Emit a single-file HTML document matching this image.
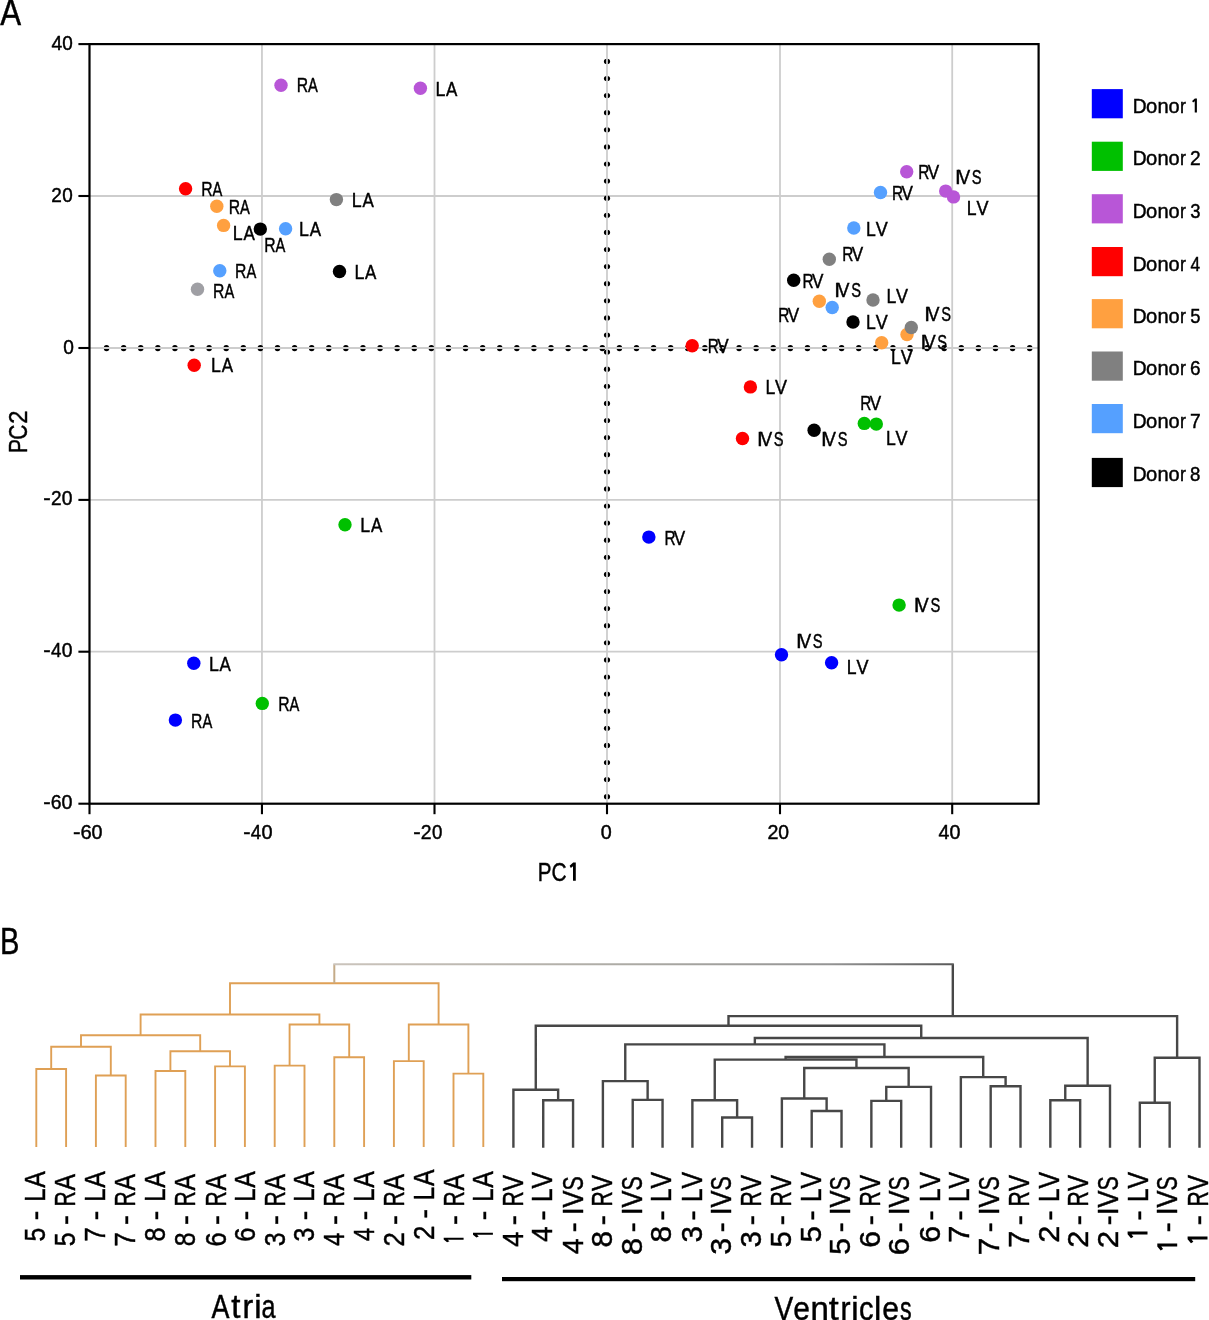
<!DOCTYPE html>
<html><head><meta charset="utf-8"><title>Figure</title>
<style>
html,body{margin:0;padding:0;background:#fff;}
body{width:1209px;height:1320px;overflow:hidden;}
svg{display:block;will-change:transform;font-family:"Liberation Sans",sans-serif;font-kerning:none;}
</style></head><body>
<svg width="1209" height="1320" viewBox="0 0 1209 1320">
<defs><linearGradient id="rootg" gradientUnits="userSpaceOnUse" x1="334" y1="0" x2="953" y2="0"><stop offset="0" stop-color="#cbc4bc"/><stop offset="0.45" stop-color="#aeaca6"/><stop offset="0.8" stop-color="#949494"/><stop offset="1" stop-color="#5a5a5a"/></linearGradient></defs>
<rect width="1209" height="1320" fill="#fff"/>
<g fill="#000" stroke="#000" stroke-width="0.45">
<text x="0.16" y="24.70" font-size="37.3" textLength="20.87" lengthAdjust="spacingAndGlyphs">A</text>
</g>
<line x1="261.95" y1="44.1" x2="261.95" y2="803.7" stroke="#cdcdcd" stroke-width="1.8"/>
<line x1="434.50" y1="44.1" x2="434.50" y2="803.7" stroke="#cdcdcd" stroke-width="1.8"/>
<line x1="780.00" y1="44.1" x2="780.00" y2="803.7" stroke="#cdcdcd" stroke-width="1.8"/>
<line x1="952.20" y1="44.1" x2="952.20" y2="803.7" stroke="#cdcdcd" stroke-width="1.8"/>
<line x1="89.5" y1="196.00" x2="1038.6" y2="196.00" stroke="#cdcdcd" stroke-width="1.8"/>
<line x1="89.5" y1="499.90" x2="1038.6" y2="499.90" stroke="#cdcdcd" stroke-width="1.8"/>
<line x1="89.5" y1="651.70" x2="1038.6" y2="651.70" stroke="#cdcdcd" stroke-width="1.8"/>
<g fill="#000"><ellipse cx="106.55" cy="348.1" rx="2.8" ry="3.2"/><ellipse cx="123.64" cy="348.1" rx="2.8" ry="3.2"/><ellipse cx="140.74" cy="348.1" rx="2.8" ry="3.2"/><ellipse cx="157.83" cy="348.1" rx="2.8" ry="3.2"/><ellipse cx="174.93" cy="348.1" rx="2.8" ry="3.2"/><ellipse cx="192.02" cy="348.1" rx="2.8" ry="3.2"/><ellipse cx="209.12" cy="348.1" rx="2.8" ry="3.2"/><ellipse cx="226.21" cy="348.1" rx="2.8" ry="3.2"/><ellipse cx="243.31" cy="348.1" rx="2.8" ry="3.2"/><ellipse cx="260.40" cy="348.1" rx="2.8" ry="3.2"/><ellipse cx="277.50" cy="348.1" rx="2.8" ry="3.2"/><ellipse cx="294.59" cy="348.1" rx="2.8" ry="3.2"/><ellipse cx="311.69" cy="348.1" rx="2.8" ry="3.2"/><ellipse cx="328.78" cy="348.1" rx="2.8" ry="3.2"/><ellipse cx="345.88" cy="348.1" rx="2.8" ry="3.2"/><ellipse cx="362.97" cy="348.1" rx="2.8" ry="3.2"/><ellipse cx="380.07" cy="348.1" rx="2.8" ry="3.2"/><ellipse cx="397.16" cy="348.1" rx="2.8" ry="3.2"/><ellipse cx="414.26" cy="348.1" rx="2.8" ry="3.2"/><ellipse cx="431.35" cy="348.1" rx="2.8" ry="3.2"/><ellipse cx="448.45" cy="348.1" rx="2.8" ry="3.2"/><ellipse cx="465.54" cy="348.1" rx="2.8" ry="3.2"/><ellipse cx="482.64" cy="348.1" rx="2.8" ry="3.2"/><ellipse cx="499.73" cy="348.1" rx="2.8" ry="3.2"/><ellipse cx="516.83" cy="348.1" rx="2.8" ry="3.2"/><ellipse cx="533.92" cy="348.1" rx="2.8" ry="3.2"/><ellipse cx="551.02" cy="348.1" rx="2.8" ry="3.2"/><ellipse cx="568.11" cy="348.1" rx="2.8" ry="3.2"/><ellipse cx="585.21" cy="348.1" rx="2.8" ry="3.2"/><ellipse cx="602.30" cy="348.1" rx="2.8" ry="3.2"/><ellipse cx="619.40" cy="348.1" rx="2.8" ry="3.2"/><ellipse cx="636.49" cy="348.1" rx="2.8" ry="3.2"/><ellipse cx="653.59" cy="348.1" rx="2.8" ry="3.2"/><ellipse cx="670.68" cy="348.1" rx="2.8" ry="3.2"/><ellipse cx="687.78" cy="348.1" rx="2.8" ry="3.2"/><ellipse cx="704.87" cy="348.1" rx="2.8" ry="3.2"/><ellipse cx="721.97" cy="348.1" rx="2.8" ry="3.2"/><ellipse cx="739.06" cy="348.1" rx="2.8" ry="3.2"/><ellipse cx="756.16" cy="348.1" rx="2.8" ry="3.2"/><ellipse cx="773.25" cy="348.1" rx="2.8" ry="3.2"/><ellipse cx="790.35" cy="348.1" rx="2.8" ry="3.2"/><ellipse cx="807.44" cy="348.1" rx="2.8" ry="3.2"/><ellipse cx="824.54" cy="348.1" rx="2.8" ry="3.2"/><ellipse cx="841.63" cy="348.1" rx="2.8" ry="3.2"/><ellipse cx="858.73" cy="348.1" rx="2.8" ry="3.2"/><ellipse cx="875.82" cy="348.1" rx="2.8" ry="3.2"/><ellipse cx="892.92" cy="348.1" rx="2.8" ry="3.2"/><ellipse cx="910.01" cy="348.1" rx="2.8" ry="3.2"/><ellipse cx="927.11" cy="348.1" rx="2.8" ry="3.2"/><ellipse cx="944.20" cy="348.1" rx="2.8" ry="3.2"/><ellipse cx="961.30" cy="348.1" rx="2.8" ry="3.2"/><ellipse cx="978.39" cy="348.1" rx="2.8" ry="3.2"/><ellipse cx="995.49" cy="348.1" rx="2.8" ry="3.2"/><ellipse cx="1012.58" cy="348.1" rx="2.8" ry="3.2"/><ellipse cx="1029.68" cy="348.1" rx="2.8" ry="3.2"/><ellipse cx="607.0" cy="61.40" rx="3.1" ry="2.6"/><ellipse cx="607.0" cy="78.50" rx="3.1" ry="2.6"/><ellipse cx="607.0" cy="95.60" rx="3.1" ry="2.6"/><ellipse cx="607.0" cy="112.70" rx="3.1" ry="2.6"/><ellipse cx="607.0" cy="129.80" rx="3.1" ry="2.6"/><ellipse cx="607.0" cy="146.90" rx="3.1" ry="2.6"/><ellipse cx="607.0" cy="164.00" rx="3.1" ry="2.6"/><ellipse cx="607.0" cy="181.10" rx="3.1" ry="2.6"/><ellipse cx="607.0" cy="198.20" rx="3.1" ry="2.6"/><ellipse cx="607.0" cy="215.30" rx="3.1" ry="2.6"/><ellipse cx="607.0" cy="232.40" rx="3.1" ry="2.6"/><ellipse cx="607.0" cy="249.50" rx="3.1" ry="2.6"/><ellipse cx="607.0" cy="266.60" rx="3.1" ry="2.6"/><ellipse cx="607.0" cy="283.70" rx="3.1" ry="2.6"/><ellipse cx="607.0" cy="300.80" rx="3.1" ry="2.6"/><ellipse cx="607.0" cy="317.90" rx="3.1" ry="2.6"/><ellipse cx="607.0" cy="335.00" rx="3.1" ry="2.6"/><ellipse cx="607.0" cy="352.10" rx="3.1" ry="2.6"/><ellipse cx="607.0" cy="369.20" rx="3.1" ry="2.6"/><ellipse cx="607.0" cy="386.30" rx="3.1" ry="2.6"/><ellipse cx="607.0" cy="403.40" rx="3.1" ry="2.6"/><ellipse cx="607.0" cy="420.50" rx="3.1" ry="2.6"/><ellipse cx="607.0" cy="437.60" rx="3.1" ry="2.6"/><ellipse cx="607.0" cy="454.70" rx="3.1" ry="2.6"/><ellipse cx="607.0" cy="471.80" rx="3.1" ry="2.6"/><ellipse cx="607.0" cy="488.90" rx="3.1" ry="2.6"/><ellipse cx="607.0" cy="506.00" rx="3.1" ry="2.6"/><ellipse cx="607.0" cy="523.10" rx="3.1" ry="2.6"/><ellipse cx="607.0" cy="540.20" rx="3.1" ry="2.6"/><ellipse cx="607.0" cy="557.30" rx="3.1" ry="2.6"/><ellipse cx="607.0" cy="574.40" rx="3.1" ry="2.6"/><ellipse cx="607.0" cy="591.50" rx="3.1" ry="2.6"/><ellipse cx="607.0" cy="608.60" rx="3.1" ry="2.6"/><ellipse cx="607.0" cy="625.70" rx="3.1" ry="2.6"/><ellipse cx="607.0" cy="642.80" rx="3.1" ry="2.6"/><ellipse cx="607.0" cy="659.90" rx="3.1" ry="2.6"/><ellipse cx="607.0" cy="677.00" rx="3.1" ry="2.6"/><ellipse cx="607.0" cy="694.10" rx="3.1" ry="2.6"/><ellipse cx="607.0" cy="711.20" rx="3.1" ry="2.6"/><ellipse cx="607.0" cy="728.30" rx="3.1" ry="2.6"/><ellipse cx="607.0" cy="745.40" rx="3.1" ry="2.6"/><ellipse cx="607.0" cy="762.50" rx="3.1" ry="2.6"/><ellipse cx="607.0" cy="779.60" rx="3.1" ry="2.6"/><ellipse cx="607.0" cy="796.70" rx="3.1" ry="2.6"/></g>
<line x1="89.5" y1="348.0" x2="1038.6" y2="348.0" stroke="#cdcdcd" stroke-width="1.8"/>
<line x1="607.0" y1="44.1" x2="607.0" y2="803.7" stroke="#cdcdcd" stroke-width="1.8"/>
<rect x="89.5" y="44.1" width="949.10" height="759.60" fill="none" stroke="#000" stroke-width="2.2"/>
<line x1="78.4" y1="44.10" x2="89.5" y2="44.10" stroke="#000" stroke-width="2.1"/>
<line x1="78.4" y1="196.00" x2="89.5" y2="196.00" stroke="#000" stroke-width="2.1"/>
<line x1="78.4" y1="348.00" x2="89.5" y2="348.00" stroke="#000" stroke-width="2.1"/>
<line x1="78.4" y1="499.90" x2="89.5" y2="499.90" stroke="#000" stroke-width="2.1"/>
<line x1="78.4" y1="651.70" x2="89.5" y2="651.70" stroke="#000" stroke-width="2.1"/>
<line x1="78.4" y1="803.70" x2="89.5" y2="803.70" stroke="#000" stroke-width="2.1"/>
<line x1="89.50" y1="803.7" x2="89.50" y2="814.2" stroke="#000" stroke-width="2.1"/>
<line x1="261.95" y1="803.7" x2="261.95" y2="814.2" stroke="#000" stroke-width="2.1"/>
<line x1="434.50" y1="803.7" x2="434.50" y2="814.2" stroke="#000" stroke-width="2.1"/>
<line x1="607.00" y1="803.7" x2="607.00" y2="814.2" stroke="#000" stroke-width="2.1"/>
<line x1="780.00" y1="803.7" x2="780.00" y2="814.2" stroke="#000" stroke-width="2.1"/>
<line x1="952.20" y1="803.7" x2="952.20" y2="814.2" stroke="#000" stroke-width="2.1"/>
<g fill="#000" stroke="#000" stroke-width="0.45">
<text x="51.38" y="50.00" font-size="20.2" textLength="10.76" lengthAdjust="spacingAndGlyphs">4</text>
<text x="62.29" y="50.00" font-size="20.2" textLength="10.53" lengthAdjust="spacingAndGlyphs">0</text>
<text x="51.37" y="201.90" font-size="20.2" textLength="10.56" lengthAdjust="spacingAndGlyphs">2</text>
<text x="62.29" y="201.90" font-size="20.2" textLength="10.53" lengthAdjust="spacingAndGlyphs">0</text>
<text x="63.18" y="354.00" font-size="20.2" textLength="10.65" lengthAdjust="spacingAndGlyphs">0</text>
<text x="43.23" y="505.00" font-size="20.2" textLength="7.43" lengthAdjust="spacingAndGlyphs">-</text>
<text x="50.97" y="505.00" font-size="20.2" textLength="10.56" lengthAdjust="spacingAndGlyphs">2</text>
<text x="61.67" y="505.00" font-size="20.2" textLength="10.76" lengthAdjust="spacingAndGlyphs">0</text>
<text x="43.23" y="657.00" font-size="20.2" textLength="7.43" lengthAdjust="spacingAndGlyphs">-</text>
<text x="50.89" y="657.00" font-size="20.2" textLength="10.43" lengthAdjust="spacingAndGlyphs">4</text>
<text x="61.67" y="657.00" font-size="20.2" textLength="10.76" lengthAdjust="spacingAndGlyphs">0</text>
<text x="43.23" y="809.00" font-size="20.2" textLength="7.43" lengthAdjust="spacingAndGlyphs">-</text>
<text x="50.64" y="809.00" font-size="20.2" textLength="10.79" lengthAdjust="spacingAndGlyphs">6</text>
<text x="61.45" y="809.00" font-size="20.2" textLength="10.99" lengthAdjust="spacingAndGlyphs">0</text>
<text x="73.11" y="838.70" font-size="20.2" textLength="7.57" lengthAdjust="spacingAndGlyphs">-</text>
<text x="80.50" y="838.70" font-size="20.2" textLength="11.27" lengthAdjust="spacingAndGlyphs">6</text>
<text x="91.55" y="838.70" font-size="20.2" textLength="10.99" lengthAdjust="spacingAndGlyphs">0</text>
<text x="243.15" y="838.70" font-size="20.2" textLength="7.30" lengthAdjust="spacingAndGlyphs">-</text>
<text x="250.79" y="838.70" font-size="20.2" textLength="10.43" lengthAdjust="spacingAndGlyphs">4</text>
<text x="261.54" y="838.70" font-size="20.2" textLength="11.11" lengthAdjust="spacingAndGlyphs">0</text>
<text x="413.23" y="838.70" font-size="20.2" textLength="7.43" lengthAdjust="spacingAndGlyphs">-</text>
<text x="420.75" y="838.70" font-size="20.2" textLength="10.80" lengthAdjust="spacingAndGlyphs">2</text>
<text x="431.89" y="838.70" font-size="20.2" textLength="10.41" lengthAdjust="spacingAndGlyphs">0</text>
<text x="600.85" y="838.70" font-size="20.2" textLength="10.99" lengthAdjust="spacingAndGlyphs">0</text>
<text x="767.54" y="838.70" font-size="20.2" textLength="10.93" lengthAdjust="spacingAndGlyphs">2</text>
<text x="778.37" y="838.70" font-size="20.2" textLength="10.76" lengthAdjust="spacingAndGlyphs">0</text>
<text x="938.38" y="838.70" font-size="20.2" textLength="10.87" lengthAdjust="spacingAndGlyphs">4</text>
<text x="949.45" y="838.70" font-size="20.2" textLength="10.99" lengthAdjust="spacingAndGlyphs">0</text>
<text x="537.74" y="880.80" font-size="25.6" textLength="13.72" lengthAdjust="spacingAndGlyphs">P</text>
<text x="551.46" y="880.80" font-size="25.6" textLength="15.11" lengthAdjust="spacingAndGlyphs">C</text>
<path transform="translate(569.60,880.80)" d="M6.20,-18.20L3.59,-18.20L0.00,-15.11L1.26,-12.92L3.41,-14.56L3.41,0.00L6.20,0.00Z" stroke="none"/>
<text transform="translate(26.80,453.09) rotate(-90)" font-size="25.6" textLength="13.97" lengthAdjust="spacingAndGlyphs">P</text>
<text transform="translate(26.80,439.74) rotate(-90)" font-size="25.6" textLength="15.11" lengthAdjust="spacingAndGlyphs">C</text>
<text transform="translate(26.80,423.67) rotate(-90)" font-size="25.6" textLength="13.25" lengthAdjust="spacingAndGlyphs">2</text>
</g>
<circle cx="175.4" cy="720.1" r="6.7" fill="#0000ff"/>
<circle cx="193.8" cy="663.3" r="6.7" fill="#0000ff"/>
<circle cx="648.85" cy="537.1" r="6.7" fill="#0000ff"/>
<circle cx="781.5" cy="654.8" r="6.7" fill="#0000ff"/>
<circle cx="831.6" cy="662.7" r="6.7" fill="#0000ff"/>
<circle cx="345.0" cy="524.7" r="6.7" fill="#00c000"/>
<circle cx="262.3" cy="703.4" r="6.7" fill="#00c000"/>
<circle cx="864.3" cy="423.4" r="6.7" fill="#00c000"/>
<circle cx="876.3" cy="424.1" r="6.7" fill="#00c000"/>
<circle cx="899.1" cy="605.1" r="6.7" fill="#00c000"/>
<circle cx="281.0" cy="85.3" r="6.7" fill="#b856d7"/>
<circle cx="420.4" cy="88.2" r="6.7" fill="#b856d7"/>
<circle cx="906.7" cy="171.7" r="6.7" fill="#b856d7"/>
<circle cx="945.7" cy="191.1" r="6.7" fill="#b856d7"/>
<circle cx="953.5" cy="196.9" r="6.7" fill="#b856d7"/>
<circle cx="185.6" cy="188.7" r="6.7" fill="#ff0000"/>
<circle cx="194.2" cy="365.2" r="6.7" fill="#ff0000"/>
<circle cx="692.2" cy="345.8" r="6.7" fill="#ff0000"/>
<circle cx="750.4" cy="386.9" r="6.7" fill="#ff0000"/>
<circle cx="742.5" cy="438.5" r="6.7" fill="#ff0000"/>
<circle cx="216.8" cy="206.2" r="6.7" fill="#ffa040"/>
<circle cx="223.6" cy="225.4" r="6.7" fill="#ffa040"/>
<circle cx="819.3" cy="301.2" r="6.7" fill="#ffa040"/>
<circle cx="907.0" cy="334.5" r="6.7" fill="#ffa040"/>
<circle cx="881.7" cy="342.8" r="6.7" fill="#ffa040"/>
<circle cx="336.4" cy="199.6" r="6.7" fill="#808080"/>
<circle cx="197.5" cy="289.3" r="6.7" fill="#9f9fa4"/>
<circle cx="829.3" cy="259.2" r="6.7" fill="#808080"/>
<circle cx="873.0" cy="300.0" r="6.7" fill="#808080"/>
<circle cx="911.3" cy="327.5" r="6.7" fill="#808080"/>
<circle cx="285.6" cy="228.7" r="6.7" fill="#55a0ff"/>
<circle cx="219.8" cy="270.8" r="6.7" fill="#55a0ff"/>
<circle cx="880.5" cy="192.5" r="6.7" fill="#55a0ff"/>
<circle cx="853.8" cy="228.0" r="6.7" fill="#55a0ff"/>
<circle cx="832.2" cy="307.5" r="6.7" fill="#55a0ff"/>
<circle cx="260.3" cy="229.1" r="6.7" fill="#000000"/>
<circle cx="339.5" cy="271.5" r="6.7" fill="#000000"/>
<circle cx="793.7" cy="280.3" r="6.7" fill="#000000"/>
<circle cx="853.0" cy="322.0" r="6.7" fill="#000000"/>
<circle cx="814.1" cy="430.3" r="6.7" fill="#000000"/>
<g fill="#000" stroke="#000" stroke-width="0.45">
<text x="190.93" y="727.80" font-size="20.8" textLength="11.37" lengthAdjust="spacingAndGlyphs">R</text>
<text x="202.40" y="727.80" font-size="20.8" textLength="9.81" lengthAdjust="spacingAndGlyphs">A</text>
<text x="208.96" y="671.10" font-size="20.8" textLength="9.90" lengthAdjust="spacingAndGlyphs">L</text>
<text x="219.59" y="671.10" font-size="20.8" textLength="11.32" lengthAdjust="spacingAndGlyphs">A</text>
<text x="664.46" y="544.50" font-size="20.8" textLength="11.13" lengthAdjust="spacingAndGlyphs">R</text>
<text x="673.85" y="544.50" font-size="20.8" textLength="11.40" lengthAdjust="spacingAndGlyphs">V</text>
<text x="796.06" y="648.30" font-size="20.8" textLength="5.78" lengthAdjust="spacingAndGlyphs">I</text>
<text x="799.15" y="648.30" font-size="20.8" textLength="11.91" lengthAdjust="spacingAndGlyphs">V</text>
<text x="812.86" y="648.30" font-size="20.8" textLength="9.79" lengthAdjust="spacingAndGlyphs">S</text>
<text x="846.78" y="673.70" font-size="20.8" textLength="9.78" lengthAdjust="spacingAndGlyphs">L</text>
<text x="856.45" y="673.70" font-size="20.8" textLength="12.01" lengthAdjust="spacingAndGlyphs">V</text>
<text x="360.26" y="532.40" font-size="20.8" textLength="9.90" lengthAdjust="spacingAndGlyphs">L</text>
<text x="370.89" y="532.40" font-size="20.8" textLength="11.32" lengthAdjust="spacingAndGlyphs">A</text>
<text x="278.13" y="711.30" font-size="20.8" textLength="11.37" lengthAdjust="spacingAndGlyphs">R</text>
<text x="289.60" y="711.30" font-size="20.8" textLength="9.81" lengthAdjust="spacingAndGlyphs">A</text>
<text x="860.26" y="409.80" font-size="20.8" textLength="11.13" lengthAdjust="spacingAndGlyphs">R</text>
<text x="869.65" y="409.80" font-size="20.8" textLength="11.40" lengthAdjust="spacingAndGlyphs">V</text>
<text x="885.88" y="444.80" font-size="20.8" textLength="9.78" lengthAdjust="spacingAndGlyphs">L</text>
<text x="895.55" y="444.80" font-size="20.8" textLength="12.01" lengthAdjust="spacingAndGlyphs">V</text>
<text x="913.66" y="611.80" font-size="20.8" textLength="5.78" lengthAdjust="spacingAndGlyphs">I</text>
<text x="916.75" y="611.80" font-size="20.8" textLength="11.91" lengthAdjust="spacingAndGlyphs">V</text>
<text x="930.46" y="611.80" font-size="20.8" textLength="9.79" lengthAdjust="spacingAndGlyphs">S</text>
<text x="296.63" y="92.40" font-size="20.8" textLength="11.37" lengthAdjust="spacingAndGlyphs">R</text>
<text x="308.10" y="92.40" font-size="20.8" textLength="9.81" lengthAdjust="spacingAndGlyphs">A</text>
<text x="435.46" y="95.60" font-size="20.8" textLength="9.90" lengthAdjust="spacingAndGlyphs">L</text>
<text x="446.09" y="95.60" font-size="20.8" textLength="11.32" lengthAdjust="spacingAndGlyphs">A</text>
<text x="918.36" y="179.20" font-size="20.8" textLength="11.13" lengthAdjust="spacingAndGlyphs">R</text>
<text x="927.75" y="179.20" font-size="20.8" textLength="11.40" lengthAdjust="spacingAndGlyphs">V</text>
<text x="955.06" y="183.60" font-size="20.8" textLength="5.78" lengthAdjust="spacingAndGlyphs">I</text>
<text x="958.15" y="183.60" font-size="20.8" textLength="11.91" lengthAdjust="spacingAndGlyphs">V</text>
<text x="971.86" y="183.60" font-size="20.8" textLength="9.79" lengthAdjust="spacingAndGlyphs">S</text>
<text x="966.78" y="215.40" font-size="20.8" textLength="9.78" lengthAdjust="spacingAndGlyphs">L</text>
<text x="976.45" y="215.40" font-size="20.8" textLength="12.01" lengthAdjust="spacingAndGlyphs">V</text>
<text x="201.13" y="196.00" font-size="20.8" textLength="11.37" lengthAdjust="spacingAndGlyphs">R</text>
<text x="212.60" y="196.00" font-size="20.8" textLength="9.81" lengthAdjust="spacingAndGlyphs">A</text>
<text x="211.06" y="371.80" font-size="20.8" textLength="9.90" lengthAdjust="spacingAndGlyphs">L</text>
<text x="221.69" y="371.80" font-size="20.8" textLength="11.32" lengthAdjust="spacingAndGlyphs">A</text>
<text x="707.76" y="352.70" font-size="20.8" textLength="11.13" lengthAdjust="spacingAndGlyphs">R</text>
<text x="717.15" y="352.70" font-size="20.8" textLength="11.40" lengthAdjust="spacingAndGlyphs">V</text>
<text x="765.38" y="393.60" font-size="20.8" textLength="9.78" lengthAdjust="spacingAndGlyphs">L</text>
<text x="775.05" y="393.60" font-size="20.8" textLength="12.01" lengthAdjust="spacingAndGlyphs">V</text>
<text x="757.06" y="445.70" font-size="20.8" textLength="5.78" lengthAdjust="spacingAndGlyphs">I</text>
<text x="760.15" y="445.70" font-size="20.8" textLength="11.91" lengthAdjust="spacingAndGlyphs">V</text>
<text x="773.86" y="445.70" font-size="20.8" textLength="9.79" lengthAdjust="spacingAndGlyphs">S</text>
<text x="228.63" y="213.50" font-size="20.8" textLength="11.37" lengthAdjust="spacingAndGlyphs">R</text>
<text x="240.10" y="213.50" font-size="20.8" textLength="9.81" lengthAdjust="spacingAndGlyphs">A</text>
<text x="232.86" y="239.80" font-size="20.8" textLength="9.90" lengthAdjust="spacingAndGlyphs">L</text>
<text x="243.49" y="239.80" font-size="20.8" textLength="11.32" lengthAdjust="spacingAndGlyphs">A</text>
<text x="834.36" y="297.20" font-size="20.8" textLength="5.78" lengthAdjust="spacingAndGlyphs">I</text>
<text x="837.45" y="297.20" font-size="20.8" textLength="11.91" lengthAdjust="spacingAndGlyphs">V</text>
<text x="851.16" y="297.20" font-size="20.8" textLength="9.79" lengthAdjust="spacingAndGlyphs">S</text>
<text x="778.36" y="321.70" font-size="20.8" textLength="11.13" lengthAdjust="spacingAndGlyphs">R</text>
<text x="787.75" y="321.70" font-size="20.8" textLength="11.40" lengthAdjust="spacingAndGlyphs">V</text>
<text x="920.56" y="349.20" font-size="20.8" textLength="5.78" lengthAdjust="spacingAndGlyphs">I</text>
<text x="923.65" y="349.20" font-size="20.8" textLength="11.91" lengthAdjust="spacingAndGlyphs">V</text>
<text x="937.36" y="349.20" font-size="20.8" textLength="9.79" lengthAdjust="spacingAndGlyphs">S</text>
<text x="891.08" y="364.20" font-size="20.8" textLength="9.78" lengthAdjust="spacingAndGlyphs">L</text>
<text x="900.75" y="364.20" font-size="20.8" textLength="12.01" lengthAdjust="spacingAndGlyphs">V</text>
<text x="351.76" y="206.90" font-size="20.8" textLength="9.90" lengthAdjust="spacingAndGlyphs">L</text>
<text x="362.39" y="206.90" font-size="20.8" textLength="11.32" lengthAdjust="spacingAndGlyphs">A</text>
<text x="212.93" y="298.20" font-size="20.8" textLength="11.37" lengthAdjust="spacingAndGlyphs">R</text>
<text x="224.40" y="298.20" font-size="20.8" textLength="9.81" lengthAdjust="spacingAndGlyphs">A</text>
<text x="842.36" y="260.50" font-size="20.8" textLength="11.13" lengthAdjust="spacingAndGlyphs">R</text>
<text x="851.75" y="260.50" font-size="20.8" textLength="11.40" lengthAdjust="spacingAndGlyphs">V</text>
<text x="886.38" y="303.00" font-size="20.8" textLength="9.78" lengthAdjust="spacingAndGlyphs">L</text>
<text x="896.05" y="303.00" font-size="20.8" textLength="12.01" lengthAdjust="spacingAndGlyphs">V</text>
<text x="924.36" y="321.20" font-size="20.8" textLength="5.78" lengthAdjust="spacingAndGlyphs">I</text>
<text x="927.45" y="321.20" font-size="20.8" textLength="11.91" lengthAdjust="spacingAndGlyphs">V</text>
<text x="941.16" y="321.20" font-size="20.8" textLength="9.79" lengthAdjust="spacingAndGlyphs">S</text>
<text x="299.06" y="235.70" font-size="20.8" textLength="9.90" lengthAdjust="spacingAndGlyphs">L</text>
<text x="309.69" y="235.70" font-size="20.8" textLength="11.32" lengthAdjust="spacingAndGlyphs">A</text>
<text x="235.03" y="278.00" font-size="20.8" textLength="11.37" lengthAdjust="spacingAndGlyphs">R</text>
<text x="246.50" y="278.00" font-size="20.8" textLength="9.81" lengthAdjust="spacingAndGlyphs">A</text>
<text x="892.06" y="199.50" font-size="20.8" textLength="11.13" lengthAdjust="spacingAndGlyphs">R</text>
<text x="901.45" y="199.50" font-size="20.8" textLength="11.40" lengthAdjust="spacingAndGlyphs">V</text>
<text x="866.08" y="235.50" font-size="20.8" textLength="9.78" lengthAdjust="spacingAndGlyphs">L</text>
<text x="875.75" y="235.50" font-size="20.8" textLength="12.01" lengthAdjust="spacingAndGlyphs">V</text>
<text x="264.13" y="251.90" font-size="20.8" textLength="11.37" lengthAdjust="spacingAndGlyphs">R</text>
<text x="275.60" y="251.90" font-size="20.8" textLength="9.81" lengthAdjust="spacingAndGlyphs">A</text>
<text x="354.46" y="278.70" font-size="20.8" textLength="9.90" lengthAdjust="spacingAndGlyphs">L</text>
<text x="365.09" y="278.70" font-size="20.8" textLength="11.32" lengthAdjust="spacingAndGlyphs">A</text>
<text x="802.56" y="287.50" font-size="20.8" textLength="11.13" lengthAdjust="spacingAndGlyphs">R</text>
<text x="811.95" y="287.50" font-size="20.8" textLength="11.40" lengthAdjust="spacingAndGlyphs">V</text>
<text x="866.08" y="328.80" font-size="20.8" textLength="9.78" lengthAdjust="spacingAndGlyphs">L</text>
<text x="875.75" y="328.80" font-size="20.8" textLength="12.01" lengthAdjust="spacingAndGlyphs">V</text>
<text x="820.96" y="446.20" font-size="20.8" textLength="5.78" lengthAdjust="spacingAndGlyphs">I</text>
<text x="824.05" y="446.20" font-size="20.8" textLength="11.91" lengthAdjust="spacingAndGlyphs">V</text>
<text x="837.76" y="446.20" font-size="20.8" textLength="9.79" lengthAdjust="spacingAndGlyphs">S</text>
</g>
<g fill="#000" stroke="#000" stroke-width="0.45">
<rect x="1091.8" y="89.10" width="31.0" height="29.2" fill="#0000ff" stroke="none"/>
<text x="1132.65" y="112.60" font-size="20.8" textLength="13.84" lengthAdjust="spacingAndGlyphs">D</text>
<text x="1146.08" y="112.60" font-size="20.8" textLength="11.25" lengthAdjust="spacingAndGlyphs">o</text>
<text x="1157.39" y="112.60" font-size="20.8" textLength="11.19" lengthAdjust="spacingAndGlyphs">n</text>
<text x="1168.48" y="112.60" font-size="20.8" textLength="11.13" lengthAdjust="spacingAndGlyphs">o</text>
<text x="1179.94" y="112.60" font-size="20.8" textLength="5.93" lengthAdjust="spacingAndGlyphs">r</text>
<path transform="translate(1192.10,112.60)" d="M4.80,-14.10L2.78,-14.10L0.00,-11.70L0.97,-10.01L2.64,-11.28L2.64,0.00L4.80,0.00Z" stroke="none"/>
<rect x="1091.8" y="141.70" width="31.0" height="29.2" fill="#00c000" stroke="none"/>
<text x="1132.65" y="165.20" font-size="20.8" textLength="13.84" lengthAdjust="spacingAndGlyphs">D</text>
<text x="1146.08" y="165.20" font-size="20.8" textLength="11.25" lengthAdjust="spacingAndGlyphs">o</text>
<text x="1157.39" y="165.20" font-size="20.8" textLength="11.19" lengthAdjust="spacingAndGlyphs">n</text>
<text x="1168.48" y="165.20" font-size="20.8" textLength="11.13" lengthAdjust="spacingAndGlyphs">o</text>
<text x="1179.94" y="165.20" font-size="20.8" textLength="5.93" lengthAdjust="spacingAndGlyphs">r</text>
<text x="1189.96" y="165.20" font-size="20.8" textLength="10.68" lengthAdjust="spacingAndGlyphs">2</text>
<rect x="1091.8" y="194.20" width="31.0" height="29.2" fill="#b856d7" stroke="none"/>
<text x="1132.65" y="217.70" font-size="20.8" textLength="13.84" lengthAdjust="spacingAndGlyphs">D</text>
<text x="1146.08" y="217.70" font-size="20.8" textLength="11.25" lengthAdjust="spacingAndGlyphs">o</text>
<text x="1157.39" y="217.70" font-size="20.8" textLength="11.19" lengthAdjust="spacingAndGlyphs">n</text>
<text x="1168.48" y="217.70" font-size="20.8" textLength="11.13" lengthAdjust="spacingAndGlyphs">o</text>
<text x="1179.94" y="217.70" font-size="20.8" textLength="5.93" lengthAdjust="spacingAndGlyphs">r</text>
<text x="1190.22" y="217.70" font-size="20.8" textLength="10.26" lengthAdjust="spacingAndGlyphs">3</text>
<rect x="1091.8" y="247.00" width="31.0" height="29.2" fill="#ff0000" stroke="none"/>
<text x="1132.65" y="270.50" font-size="20.8" textLength="13.84" lengthAdjust="spacingAndGlyphs">D</text>
<text x="1146.08" y="270.50" font-size="20.8" textLength="11.25" lengthAdjust="spacingAndGlyphs">o</text>
<text x="1157.39" y="270.50" font-size="20.8" textLength="11.19" lengthAdjust="spacingAndGlyphs">n</text>
<text x="1168.48" y="270.50" font-size="20.8" textLength="11.13" lengthAdjust="spacingAndGlyphs">o</text>
<text x="1179.94" y="270.50" font-size="20.8" textLength="5.93" lengthAdjust="spacingAndGlyphs">r</text>
<text x="1190.53" y="270.50" font-size="20.8" textLength="9.66" lengthAdjust="spacingAndGlyphs">4</text>
<rect x="1091.8" y="299.10" width="31.0" height="29.2" fill="#ffa040" stroke="none"/>
<text x="1132.65" y="322.60" font-size="20.8" textLength="13.84" lengthAdjust="spacingAndGlyphs">D</text>
<text x="1146.08" y="322.60" font-size="20.8" textLength="11.25" lengthAdjust="spacingAndGlyphs">o</text>
<text x="1157.39" y="322.60" font-size="20.8" textLength="11.19" lengthAdjust="spacingAndGlyphs">n</text>
<text x="1168.48" y="322.60" font-size="20.8" textLength="11.13" lengthAdjust="spacingAndGlyphs">o</text>
<text x="1179.94" y="322.60" font-size="20.8" textLength="5.93" lengthAdjust="spacingAndGlyphs">r</text>
<text x="1190.19" y="322.60" font-size="20.8" textLength="10.26" lengthAdjust="spacingAndGlyphs">5</text>
<rect x="1091.8" y="351.50" width="31.0" height="29.2" fill="#808080" stroke="none"/>
<text x="1132.65" y="375.00" font-size="20.8" textLength="13.84" lengthAdjust="spacingAndGlyphs">D</text>
<text x="1146.08" y="375.00" font-size="20.8" textLength="11.25" lengthAdjust="spacingAndGlyphs">o</text>
<text x="1157.39" y="375.00" font-size="20.8" textLength="11.19" lengthAdjust="spacingAndGlyphs">n</text>
<text x="1168.48" y="375.00" font-size="20.8" textLength="11.13" lengthAdjust="spacingAndGlyphs">o</text>
<text x="1179.94" y="375.00" font-size="20.8" textLength="5.93" lengthAdjust="spacingAndGlyphs">r</text>
<text x="1189.96" y="375.00" font-size="20.8" textLength="10.55" lengthAdjust="spacingAndGlyphs">6</text>
<rect x="1091.8" y="404.00" width="31.0" height="29.2" fill="#55a0ff" stroke="none"/>
<text x="1132.65" y="427.50" font-size="20.8" textLength="13.84" lengthAdjust="spacingAndGlyphs">D</text>
<text x="1146.08" y="427.50" font-size="20.8" textLength="11.25" lengthAdjust="spacingAndGlyphs">o</text>
<text x="1157.39" y="427.50" font-size="20.8" textLength="11.19" lengthAdjust="spacingAndGlyphs">n</text>
<text x="1168.48" y="427.50" font-size="20.8" textLength="11.13" lengthAdjust="spacingAndGlyphs">o</text>
<text x="1179.94" y="427.50" font-size="20.8" textLength="5.93" lengthAdjust="spacingAndGlyphs">r</text>
<text x="1189.94" y="427.50" font-size="20.8" textLength="10.70" lengthAdjust="spacingAndGlyphs">7</text>
<rect x="1091.8" y="457.90" width="31.0" height="29.2" fill="#000000" stroke="none"/>
<text x="1132.65" y="481.40" font-size="20.8" textLength="13.84" lengthAdjust="spacingAndGlyphs">D</text>
<text x="1146.08" y="481.40" font-size="20.8" textLength="11.25" lengthAdjust="spacingAndGlyphs">o</text>
<text x="1157.39" y="481.40" font-size="20.8" textLength="11.19" lengthAdjust="spacingAndGlyphs">n</text>
<text x="1168.48" y="481.40" font-size="20.8" textLength="11.13" lengthAdjust="spacingAndGlyphs">o</text>
<text x="1179.94" y="481.40" font-size="20.8" textLength="5.93" lengthAdjust="spacingAndGlyphs">r</text>
<text x="1190.11" y="481.40" font-size="20.8" textLength="10.37" lengthAdjust="spacingAndGlyphs">8</text>
</g>
<g fill="#000" stroke="#000" stroke-width="0.45">
<text x="-0.11" y="953.80" font-size="37.3" textLength="19.42" lengthAdjust="spacingAndGlyphs">B</text>
</g>
<path d="M36.30,1146.00V1069.00H66.10V1146.00M95.90,1146.00V1075.50H125.70V1146.00M155.50,1146.00V1071.00H185.30V1146.00M215.10,1146.00V1066.40H244.90V1146.00M274.70,1146.00V1065.60H304.50V1146.00M334.30,1146.00V1057.30H364.10V1146.00M393.90,1146.00V1061.10H423.70V1146.00M453.50,1146.00V1073.60H483.30V1146.00M51.20,1069.00V1046.80H110.80V1075.50M170.40,1071.00V1051.30H230.00V1066.40M81.00,1046.80V1035.20H200.20V1051.30M289.60,1065.60V1024.50H349.20V1057.30M408.80,1061.10V1024.50H468.40V1073.60M140.60,1035.20V1014.50H319.40V1024.50M230.00,1014.50V983.30H438.60V1024.50" fill="none" stroke="#dfa055" stroke-width="1.9" stroke-linecap="square"/>
<path d="M543.23,1146.60V1100.30H573.06V1146.60M513.40,1146.60V1089.80H558.14V1100.30M632.72,1146.60V1099.90H662.55V1146.60M602.89,1146.60V1081.10H647.63V1099.90M722.21,1146.60V1117.50H752.04V1146.60M692.38,1146.60V1100.30H737.12V1117.50M811.70,1146.60V1111.00H841.53V1146.60M781.87,1146.60V1098.50H826.62V1111.00M871.36,1146.60V1100.90H901.19V1146.60M886.27,1100.90V1086.90H931.02V1146.60M804.24,1098.50V1068.00H908.65V1086.90M714.75,1100.30V1059.60H856.44V1068.00M990.68,1146.60V1086.30H1020.51V1146.60M960.85,1146.60V1077.10H1005.60V1086.30M785.60,1059.60V1057.00H983.22V1077.10M625.26,1081.10V1044.40H884.41V1057.00M1050.34,1146.60V1100.20H1080.17V1146.60M1065.26,1100.20V1085.70H1110.00V1146.60M754.84,1044.40V1038.00H1087.63V1085.70M535.77,1089.80V1025.80H921.23V1038.00M1139.83,1146.60V1102.80H1169.66V1146.60M1154.74,1102.80V1057.80H1199.49V1146.60M728.50,1025.80V1016.10H1177.12V1057.80M952.81,1016.1V965.3" fill="none" stroke="#474747" stroke-width="2.4" stroke-linecap="square"/>
<path d="M334.30,983.3V964.3" fill="none" stroke="#c4ab88" stroke-width="2"/>
<path d="M333.30,964.3H953.81" fill="none" stroke="url(#rootg)" stroke-width="2"/>
<g fill="#000" stroke="#000" stroke-width="0.45">
<text transform="translate(44.50,1187.72) rotate(-90)" font-size="29.0" textLength="16.45" lengthAdjust="spacingAndGlyphs">A</text>
<text transform="translate(44.50,1201.84) rotate(-90)" font-size="29.0" textLength="13.31" lengthAdjust="spacingAndGlyphs">L</text>
<text transform="translate(44.50,1220.14) rotate(-90)" font-size="29.0" textLength="9.48" lengthAdjust="spacingAndGlyphs">-</text>
<text transform="translate(44.50,1241.48) rotate(-90)" font-size="29.0" textLength="13.90" lengthAdjust="spacingAndGlyphs">5</text>
<text transform="translate(75.30,1190.62) rotate(-90)" font-size="29.0" textLength="16.45" lengthAdjust="spacingAndGlyphs">A</text>
<text transform="translate(75.30,1206.40) rotate(-90)" font-size="29.0" textLength="15.14" lengthAdjust="spacingAndGlyphs">R</text>
<text transform="translate(75.30,1224.99) rotate(-90)" font-size="29.0" textLength="9.89" lengthAdjust="spacingAndGlyphs">-</text>
<text transform="translate(75.30,1246.27) rotate(-90)" font-size="29.0" textLength="13.78" lengthAdjust="spacingAndGlyphs">5</text>
<text transform="translate(104.60,1187.72) rotate(-90)" font-size="29.0" textLength="16.45" lengthAdjust="spacingAndGlyphs">A</text>
<text transform="translate(104.60,1201.84) rotate(-90)" font-size="29.0" textLength="13.31" lengthAdjust="spacingAndGlyphs">L</text>
<text transform="translate(104.60,1220.14) rotate(-90)" font-size="29.0" textLength="9.48" lengthAdjust="spacingAndGlyphs">-</text>
<text transform="translate(104.60,1241.81) rotate(-90)" font-size="29.0" textLength="14.50" lengthAdjust="spacingAndGlyphs">7</text>
<text transform="translate(134.80,1190.62) rotate(-90)" font-size="29.0" textLength="16.45" lengthAdjust="spacingAndGlyphs">A</text>
<text transform="translate(134.80,1206.40) rotate(-90)" font-size="29.0" textLength="15.14" lengthAdjust="spacingAndGlyphs">R</text>
<text transform="translate(134.80,1224.99) rotate(-90)" font-size="29.0" textLength="9.89" lengthAdjust="spacingAndGlyphs">-</text>
<text transform="translate(134.80,1246.60) rotate(-90)" font-size="29.0" textLength="14.38" lengthAdjust="spacingAndGlyphs">7</text>
<text transform="translate(165.00,1187.72) rotate(-90)" font-size="29.0" textLength="16.45" lengthAdjust="spacingAndGlyphs">A</text>
<text transform="translate(165.00,1201.84) rotate(-90)" font-size="29.0" textLength="13.31" lengthAdjust="spacingAndGlyphs">L</text>
<text transform="translate(165.00,1220.14) rotate(-90)" font-size="29.0" textLength="9.48" lengthAdjust="spacingAndGlyphs">-</text>
<text transform="translate(165.00,1241.57) rotate(-90)" font-size="29.0" textLength="14.04" lengthAdjust="spacingAndGlyphs">8</text>
<text transform="translate(195.30,1190.62) rotate(-90)" font-size="29.0" textLength="16.45" lengthAdjust="spacingAndGlyphs">A</text>
<text transform="translate(195.30,1206.40) rotate(-90)" font-size="29.0" textLength="15.14" lengthAdjust="spacingAndGlyphs">R</text>
<text transform="translate(195.30,1224.99) rotate(-90)" font-size="29.0" textLength="9.89" lengthAdjust="spacingAndGlyphs">-</text>
<text transform="translate(195.30,1246.36) rotate(-90)" font-size="29.0" textLength="13.93" lengthAdjust="spacingAndGlyphs">8</text>
<text transform="translate(225.60,1190.62) rotate(-90)" font-size="29.0" textLength="16.45" lengthAdjust="spacingAndGlyphs">A</text>
<text transform="translate(225.60,1206.40) rotate(-90)" font-size="29.0" textLength="15.14" lengthAdjust="spacingAndGlyphs">R</text>
<text transform="translate(225.60,1224.99) rotate(-90)" font-size="29.0" textLength="9.89" lengthAdjust="spacingAndGlyphs">-</text>
<text transform="translate(225.60,1246.57) rotate(-90)" font-size="29.0" textLength="14.16" lengthAdjust="spacingAndGlyphs">6</text>
<text transform="translate(254.80,1187.72) rotate(-90)" font-size="29.0" textLength="16.45" lengthAdjust="spacingAndGlyphs">A</text>
<text transform="translate(254.80,1201.84) rotate(-90)" font-size="29.0" textLength="13.31" lengthAdjust="spacingAndGlyphs">L</text>
<text transform="translate(254.80,1220.14) rotate(-90)" font-size="29.0" textLength="9.48" lengthAdjust="spacingAndGlyphs">-</text>
<text transform="translate(254.80,1241.78) rotate(-90)" font-size="29.0" textLength="14.28" lengthAdjust="spacingAndGlyphs">6</text>
<text transform="translate(284.50,1190.62) rotate(-90)" font-size="29.0" textLength="16.45" lengthAdjust="spacingAndGlyphs">A</text>
<text transform="translate(284.50,1206.40) rotate(-90)" font-size="29.0" textLength="15.14" lengthAdjust="spacingAndGlyphs">R</text>
<text transform="translate(284.50,1224.99) rotate(-90)" font-size="29.0" textLength="9.89" lengthAdjust="spacingAndGlyphs">-</text>
<text transform="translate(284.50,1246.22) rotate(-90)" font-size="29.0" textLength="13.78" lengthAdjust="spacingAndGlyphs">3</text>
<text transform="translate(314.30,1187.72) rotate(-90)" font-size="29.0" textLength="16.45" lengthAdjust="spacingAndGlyphs">A</text>
<text transform="translate(314.30,1201.84) rotate(-90)" font-size="29.0" textLength="13.31" lengthAdjust="spacingAndGlyphs">L</text>
<text transform="translate(314.30,1220.14) rotate(-90)" font-size="29.0" textLength="9.48" lengthAdjust="spacingAndGlyphs">-</text>
<text transform="translate(314.30,1241.43) rotate(-90)" font-size="29.0" textLength="13.90" lengthAdjust="spacingAndGlyphs">3</text>
<text transform="translate(343.90,1190.62) rotate(-90)" font-size="29.0" textLength="16.45" lengthAdjust="spacingAndGlyphs">A</text>
<text transform="translate(343.90,1206.40) rotate(-90)" font-size="29.0" textLength="15.14" lengthAdjust="spacingAndGlyphs">R</text>
<text transform="translate(343.90,1224.99) rotate(-90)" font-size="29.0" textLength="9.89" lengthAdjust="spacingAndGlyphs">-</text>
<text transform="translate(343.90,1245.81) rotate(-90)" font-size="29.0" textLength="12.97" lengthAdjust="spacingAndGlyphs">4</text>
<text transform="translate(373.60,1187.72) rotate(-90)" font-size="29.0" textLength="16.45" lengthAdjust="spacingAndGlyphs">A</text>
<text transform="translate(373.60,1201.84) rotate(-90)" font-size="29.0" textLength="13.31" lengthAdjust="spacingAndGlyphs">L</text>
<text transform="translate(373.60,1220.14) rotate(-90)" font-size="29.0" textLength="9.48" lengthAdjust="spacingAndGlyphs">-</text>
<text transform="translate(373.60,1241.01) rotate(-90)" font-size="29.0" textLength="13.08" lengthAdjust="spacingAndGlyphs">4</text>
<text transform="translate(403.50,1190.62) rotate(-90)" font-size="29.0" textLength="16.45" lengthAdjust="spacingAndGlyphs">A</text>
<text transform="translate(403.50,1206.40) rotate(-90)" font-size="29.0" textLength="15.14" lengthAdjust="spacingAndGlyphs">R</text>
<text transform="translate(403.50,1224.99) rotate(-90)" font-size="29.0" textLength="9.89" lengthAdjust="spacingAndGlyphs">-</text>
<text transform="translate(403.50,1246.57) rotate(-90)" font-size="29.0" textLength="14.34" lengthAdjust="spacingAndGlyphs">2</text>
<text transform="translate(433.80,1186.02) rotate(-90)" font-size="29.0" textLength="16.45" lengthAdjust="spacingAndGlyphs">A</text>
<text transform="translate(433.80,1200.14) rotate(-90)" font-size="29.0" textLength="13.31" lengthAdjust="spacingAndGlyphs">L</text>
<text transform="translate(433.80,1218.44) rotate(-90)" font-size="29.0" textLength="9.48" lengthAdjust="spacingAndGlyphs">-</text>
<text transform="translate(433.80,1240.08) rotate(-90)" font-size="29.0" textLength="14.47" lengthAdjust="spacingAndGlyphs">2</text>
<text transform="translate(463.60,1190.62) rotate(-90)" font-size="29.0" textLength="16.45" lengthAdjust="spacingAndGlyphs">A</text>
<text transform="translate(463.60,1206.40) rotate(-90)" font-size="29.0" textLength="15.14" lengthAdjust="spacingAndGlyphs">R</text>
<text transform="translate(463.60,1224.99) rotate(-90)" font-size="29.0" textLength="9.89" lengthAdjust="spacingAndGlyphs">-</text>
<path transform="translate(463.60,1242.20) rotate(-90)" d="M4.50,-19.90L2.61,-19.90L0.00,-16.52L0.91,-14.13L2.48,-15.92L2.48,0.00L4.50,0.00Z" stroke="none"/>
<text transform="translate(492.90,1187.72) rotate(-90)" font-size="29.0" textLength="16.45" lengthAdjust="spacingAndGlyphs">A</text>
<text transform="translate(492.90,1201.84) rotate(-90)" font-size="29.0" textLength="13.31" lengthAdjust="spacingAndGlyphs">L</text>
<text transform="translate(492.90,1220.14) rotate(-90)" font-size="29.0" textLength="9.48" lengthAdjust="spacingAndGlyphs">-</text>
<path transform="translate(492.90,1237.40) rotate(-90)" d="M4.60,-19.90L2.67,-19.90L0.00,-16.52L0.93,-14.13L2.53,-15.92L2.53,0.00L4.60,0.00Z" stroke="none"/>
<text transform="translate(522.50,1191.08) rotate(-90)" font-size="29.0" textLength="16.06" lengthAdjust="spacingAndGlyphs">V</text>
<text transform="translate(522.50,1206.41) rotate(-90)" font-size="29.0" textLength="15.26" lengthAdjust="spacingAndGlyphs">R</text>
<text transform="translate(522.50,1225.13) rotate(-90)" font-size="29.0" textLength="10.16" lengthAdjust="spacingAndGlyphs">-</text>
<text transform="translate(522.50,1246.91) rotate(-90)" font-size="29.0" textLength="15.40" lengthAdjust="spacingAndGlyphs">4</text>
<text transform="translate(552.30,1188.48) rotate(-90)" font-size="29.0" textLength="16.67" lengthAdjust="spacingAndGlyphs">V</text>
<text transform="translate(552.30,1201.98) rotate(-90)" font-size="29.0" textLength="13.56" lengthAdjust="spacingAndGlyphs">L</text>
<text transform="translate(552.30,1220.41) rotate(-90)" font-size="29.0" textLength="10.03" lengthAdjust="spacingAndGlyphs">-</text>
<text transform="translate(552.30,1241.91) rotate(-90)" font-size="29.0" textLength="15.51" lengthAdjust="spacingAndGlyphs">4</text>
<text transform="translate(582.60,1190.44) rotate(-90)" font-size="29.0" textLength="14.19" lengthAdjust="spacingAndGlyphs">S</text>
<text transform="translate(582.60,1207.49) rotate(-90)" font-size="29.0" textLength="16.97" lengthAdjust="spacingAndGlyphs">V</text>
<text transform="translate(582.60,1215.23) rotate(-90)" font-size="29.0" textLength="8.06" lengthAdjust="spacingAndGlyphs">I</text>
<text transform="translate(582.60,1232.29) rotate(-90)" font-size="29.0" textLength="9.89" lengthAdjust="spacingAndGlyphs">-</text>
<text transform="translate(582.60,1254.23) rotate(-90)" font-size="29.0" textLength="15.84" lengthAdjust="spacingAndGlyphs">4</text>
<text transform="translate(611.90,1191.08) rotate(-90)" font-size="29.0" textLength="16.06" lengthAdjust="spacingAndGlyphs">V</text>
<text transform="translate(611.90,1206.41) rotate(-90)" font-size="29.0" textLength="15.26" lengthAdjust="spacingAndGlyphs">R</text>
<text transform="translate(611.90,1225.13) rotate(-90)" font-size="29.0" textLength="10.16" lengthAdjust="spacingAndGlyphs">-</text>
<text transform="translate(611.90,1247.57) rotate(-90)" font-size="29.0" textLength="16.53" lengthAdjust="spacingAndGlyphs">8</text>
<text transform="translate(641.50,1190.44) rotate(-90)" font-size="29.0" textLength="14.19" lengthAdjust="spacingAndGlyphs">S</text>
<text transform="translate(641.50,1207.49) rotate(-90)" font-size="29.0" textLength="16.97" lengthAdjust="spacingAndGlyphs">V</text>
<text transform="translate(641.50,1215.23) rotate(-90)" font-size="29.0" textLength="8.06" lengthAdjust="spacingAndGlyphs">I</text>
<text transform="translate(641.50,1232.29) rotate(-90)" font-size="29.0" textLength="9.89" lengthAdjust="spacingAndGlyphs">-</text>
<text transform="translate(641.50,1254.90) rotate(-90)" font-size="29.0" textLength="17.01" lengthAdjust="spacingAndGlyphs">8</text>
<text transform="translate(671.30,1188.48) rotate(-90)" font-size="29.0" textLength="16.67" lengthAdjust="spacingAndGlyphs">V</text>
<text transform="translate(671.30,1201.98) rotate(-90)" font-size="29.0" textLength="13.56" lengthAdjust="spacingAndGlyphs">L</text>
<text transform="translate(671.30,1220.41) rotate(-90)" font-size="29.0" textLength="10.03" lengthAdjust="spacingAndGlyphs">-</text>
<text transform="translate(671.30,1242.58) rotate(-90)" font-size="29.0" textLength="16.65" lengthAdjust="spacingAndGlyphs">8</text>
<text transform="translate(701.60,1188.48) rotate(-90)" font-size="29.0" textLength="16.67" lengthAdjust="spacingAndGlyphs">V</text>
<text transform="translate(701.60,1201.98) rotate(-90)" font-size="29.0" textLength="13.56" lengthAdjust="spacingAndGlyphs">L</text>
<text transform="translate(701.60,1220.41) rotate(-90)" font-size="29.0" textLength="10.03" lengthAdjust="spacingAndGlyphs">-</text>
<text transform="translate(701.60,1242.40) rotate(-90)" font-size="29.0" textLength="16.48" lengthAdjust="spacingAndGlyphs">3</text>
<text transform="translate(731.40,1190.44) rotate(-90)" font-size="29.0" textLength="14.19" lengthAdjust="spacingAndGlyphs">S</text>
<text transform="translate(731.40,1207.49) rotate(-90)" font-size="29.0" textLength="16.97" lengthAdjust="spacingAndGlyphs">V</text>
<text transform="translate(731.40,1215.23) rotate(-90)" font-size="29.0" textLength="8.06" lengthAdjust="spacingAndGlyphs">I</text>
<text transform="translate(731.40,1232.29) rotate(-90)" font-size="29.0" textLength="9.89" lengthAdjust="spacingAndGlyphs">-</text>
<text transform="translate(731.40,1254.73) rotate(-90)" font-size="29.0" textLength="16.83" lengthAdjust="spacingAndGlyphs">3</text>
<text transform="translate(761.00,1191.08) rotate(-90)" font-size="29.0" textLength="16.06" lengthAdjust="spacingAndGlyphs">V</text>
<text transform="translate(761.00,1206.41) rotate(-90)" font-size="29.0" textLength="15.26" lengthAdjust="spacingAndGlyphs">R</text>
<text transform="translate(761.00,1225.13) rotate(-90)" font-size="29.0" textLength="10.16" lengthAdjust="spacingAndGlyphs">-</text>
<text transform="translate(761.00,1247.40) rotate(-90)" font-size="29.0" textLength="16.36" lengthAdjust="spacingAndGlyphs">3</text>
<text transform="translate(790.80,1191.08) rotate(-90)" font-size="29.0" textLength="16.06" lengthAdjust="spacingAndGlyphs">V</text>
<text transform="translate(790.80,1206.41) rotate(-90)" font-size="29.0" textLength="15.26" lengthAdjust="spacingAndGlyphs">R</text>
<text transform="translate(790.80,1225.13) rotate(-90)" font-size="29.0" textLength="10.16" lengthAdjust="spacingAndGlyphs">-</text>
<text transform="translate(790.80,1247.45) rotate(-90)" font-size="29.0" textLength="16.36" lengthAdjust="spacingAndGlyphs">5</text>
<text transform="translate(820.60,1188.48) rotate(-90)" font-size="29.0" textLength="16.67" lengthAdjust="spacingAndGlyphs">V</text>
<text transform="translate(820.60,1201.98) rotate(-90)" font-size="29.0" textLength="13.56" lengthAdjust="spacingAndGlyphs">L</text>
<text transform="translate(820.60,1220.41) rotate(-90)" font-size="29.0" textLength="10.03" lengthAdjust="spacingAndGlyphs">-</text>
<text transform="translate(820.60,1242.46) rotate(-90)" font-size="29.0" textLength="16.48" lengthAdjust="spacingAndGlyphs">5</text>
<text transform="translate(850.40,1190.44) rotate(-90)" font-size="29.0" textLength="14.19" lengthAdjust="spacingAndGlyphs">S</text>
<text transform="translate(850.40,1207.49) rotate(-90)" font-size="29.0" textLength="16.97" lengthAdjust="spacingAndGlyphs">V</text>
<text transform="translate(850.40,1215.23) rotate(-90)" font-size="29.0" textLength="8.06" lengthAdjust="spacingAndGlyphs">I</text>
<text transform="translate(850.40,1232.29) rotate(-90)" font-size="29.0" textLength="9.89" lengthAdjust="spacingAndGlyphs">-</text>
<text transform="translate(850.40,1254.79) rotate(-90)" font-size="29.0" textLength="16.83" lengthAdjust="spacingAndGlyphs">5</text>
<text transform="translate(879.60,1191.08) rotate(-90)" font-size="29.0" textLength="16.06" lengthAdjust="spacingAndGlyphs">V</text>
<text transform="translate(879.60,1206.41) rotate(-90)" font-size="29.0" textLength="15.26" lengthAdjust="spacingAndGlyphs">R</text>
<text transform="translate(879.60,1225.13) rotate(-90)" font-size="29.0" textLength="10.16" lengthAdjust="spacingAndGlyphs">-</text>
<text transform="translate(879.60,1247.81) rotate(-90)" font-size="29.0" textLength="16.81" lengthAdjust="spacingAndGlyphs">6</text>
<text transform="translate(909.30,1190.44) rotate(-90)" font-size="29.0" textLength="14.19" lengthAdjust="spacingAndGlyphs">S</text>
<text transform="translate(909.30,1207.49) rotate(-90)" font-size="29.0" textLength="16.97" lengthAdjust="spacingAndGlyphs">V</text>
<text transform="translate(909.30,1215.23) rotate(-90)" font-size="29.0" textLength="8.06" lengthAdjust="spacingAndGlyphs">I</text>
<text transform="translate(909.30,1232.29) rotate(-90)" font-size="29.0" textLength="9.89" lengthAdjust="spacingAndGlyphs">-</text>
<text transform="translate(909.30,1255.15) rotate(-90)" font-size="29.0" textLength="17.30" lengthAdjust="spacingAndGlyphs">6</text>
<text transform="translate(939.60,1188.48) rotate(-90)" font-size="29.0" textLength="16.67" lengthAdjust="spacingAndGlyphs">V</text>
<text transform="translate(939.60,1201.98) rotate(-90)" font-size="29.0" textLength="13.56" lengthAdjust="spacingAndGlyphs">L</text>
<text transform="translate(939.60,1220.41) rotate(-90)" font-size="29.0" textLength="10.03" lengthAdjust="spacingAndGlyphs">-</text>
<text transform="translate(939.60,1242.82) rotate(-90)" font-size="29.0" textLength="16.93" lengthAdjust="spacingAndGlyphs">6</text>
<text transform="translate(968.90,1188.48) rotate(-90)" font-size="29.0" textLength="16.67" lengthAdjust="spacingAndGlyphs">V</text>
<text transform="translate(968.90,1201.98) rotate(-90)" font-size="29.0" textLength="13.56" lengthAdjust="spacingAndGlyphs">L</text>
<text transform="translate(968.90,1220.41) rotate(-90)" font-size="29.0" textLength="10.03" lengthAdjust="spacingAndGlyphs">-</text>
<text transform="translate(968.90,1242.86) rotate(-90)" font-size="29.0" textLength="17.19" lengthAdjust="spacingAndGlyphs">7</text>
<text transform="translate(999.10,1190.44) rotate(-90)" font-size="29.0" textLength="14.19" lengthAdjust="spacingAndGlyphs">S</text>
<text transform="translate(999.10,1207.49) rotate(-90)" font-size="29.0" textLength="16.97" lengthAdjust="spacingAndGlyphs">V</text>
<text transform="translate(999.10,1215.23) rotate(-90)" font-size="29.0" textLength="8.06" lengthAdjust="spacingAndGlyphs">I</text>
<text transform="translate(999.10,1232.29) rotate(-90)" font-size="29.0" textLength="9.89" lengthAdjust="spacingAndGlyphs">-</text>
<text transform="translate(999.10,1255.19) rotate(-90)" font-size="29.0" textLength="17.56" lengthAdjust="spacingAndGlyphs">7</text>
<text transform="translate(1028.80,1191.08) rotate(-90)" font-size="29.0" textLength="16.06" lengthAdjust="spacingAndGlyphs">V</text>
<text transform="translate(1028.80,1206.41) rotate(-90)" font-size="29.0" textLength="15.26" lengthAdjust="spacingAndGlyphs">R</text>
<text transform="translate(1028.80,1225.13) rotate(-90)" font-size="29.0" textLength="10.16" lengthAdjust="spacingAndGlyphs">-</text>
<text transform="translate(1028.80,1247.85) rotate(-90)" font-size="29.0" textLength="17.07" lengthAdjust="spacingAndGlyphs">7</text>
<text transform="translate(1058.60,1188.48) rotate(-90)" font-size="29.0" textLength="16.67" lengthAdjust="spacingAndGlyphs">V</text>
<text transform="translate(1058.60,1201.98) rotate(-90)" font-size="29.0" textLength="13.56" lengthAdjust="spacingAndGlyphs">L</text>
<text transform="translate(1058.60,1220.41) rotate(-90)" font-size="29.0" textLength="10.03" lengthAdjust="spacingAndGlyphs">-</text>
<text transform="translate(1058.60,1242.83) rotate(-90)" font-size="29.0" textLength="17.15" lengthAdjust="spacingAndGlyphs">2</text>
<text transform="translate(1088.40,1191.08) rotate(-90)" font-size="29.0" textLength="16.06" lengthAdjust="spacingAndGlyphs">V</text>
<text transform="translate(1088.40,1206.41) rotate(-90)" font-size="29.0" textLength="15.26" lengthAdjust="spacingAndGlyphs">R</text>
<text transform="translate(1088.40,1225.13) rotate(-90)" font-size="29.0" textLength="10.16" lengthAdjust="spacingAndGlyphs">-</text>
<text transform="translate(1088.40,1247.82) rotate(-90)" font-size="29.0" textLength="17.03" lengthAdjust="spacingAndGlyphs">2</text>
<text transform="translate(1118.20,1190.44) rotate(-90)" font-size="29.0" textLength="14.19" lengthAdjust="spacingAndGlyphs">S</text>
<text transform="translate(1118.20,1207.49) rotate(-90)" font-size="29.0" textLength="16.97" lengthAdjust="spacingAndGlyphs">V</text>
<text transform="translate(1118.20,1215.23) rotate(-90)" font-size="29.0" textLength="8.06" lengthAdjust="spacingAndGlyphs">I</text>
<text transform="translate(1118.20,1225.29) rotate(-90)" font-size="29.0" textLength="9.89" lengthAdjust="spacingAndGlyphs">-</text>
<text transform="translate(1118.20,1248.16) rotate(-90)" font-size="29.0" textLength="17.52" lengthAdjust="spacingAndGlyphs">2</text>
<text transform="translate(1147.50,1188.48) rotate(-90)" font-size="29.0" textLength="16.67" lengthAdjust="spacingAndGlyphs">V</text>
<text transform="translate(1147.50,1201.98) rotate(-90)" font-size="29.0" textLength="13.56" lengthAdjust="spacingAndGlyphs">L</text>
<text transform="translate(1147.50,1220.41) rotate(-90)" font-size="29.0" textLength="10.03" lengthAdjust="spacingAndGlyphs">-</text>
<path transform="translate(1147.50,1238.20) rotate(-90)" d="M6.80,-19.90L3.94,-19.90L0.00,-16.52L1.38,-14.13L3.74,-15.92L3.74,0.00L6.80,0.00Z" stroke="none"/>
<text transform="translate(1177.20,1190.44) rotate(-90)" font-size="29.0" textLength="14.19" lengthAdjust="spacingAndGlyphs">S</text>
<text transform="translate(1177.20,1207.49) rotate(-90)" font-size="29.0" textLength="16.97" lengthAdjust="spacingAndGlyphs">V</text>
<text transform="translate(1177.20,1215.23) rotate(-90)" font-size="29.0" textLength="8.06" lengthAdjust="spacingAndGlyphs">I</text>
<text transform="translate(1177.20,1232.29) rotate(-90)" font-size="29.0" textLength="9.89" lengthAdjust="spacingAndGlyphs">-</text>
<path transform="translate(1177.20,1250.50) rotate(-90)" d="M7.10,-19.90L4.12,-19.90L0.00,-16.52L1.44,-14.13L3.91,-15.92L3.91,0.00L7.10,0.00Z" stroke="none"/>
<text transform="translate(1207.50,1191.08) rotate(-90)" font-size="29.0" textLength="16.06" lengthAdjust="spacingAndGlyphs">V</text>
<text transform="translate(1207.50,1206.41) rotate(-90)" font-size="29.0" textLength="15.26" lengthAdjust="spacingAndGlyphs">R</text>
<text transform="translate(1207.50,1225.13) rotate(-90)" font-size="29.0" textLength="10.16" lengthAdjust="spacingAndGlyphs">-</text>
<path transform="translate(1207.50,1243.20) rotate(-90)" d="M6.70,-19.90L3.88,-19.90L0.00,-16.52L1.36,-14.13L3.69,-15.92L3.69,0.00L6.70,0.00Z" stroke="none"/>
<text x="211.47" y="1317.80" font-size="33.0" textLength="17.96" lengthAdjust="spacingAndGlyphs">A</text>
<text x="231.32" y="1317.80" font-size="33.0" textLength="9.19" lengthAdjust="spacingAndGlyphs">t</text>
<text x="242.59" y="1317.80" font-size="33.0" textLength="10.72" lengthAdjust="spacingAndGlyphs">r</text>
<text x="254.24" y="1317.80" font-size="33.0" textLength="7.33" lengthAdjust="spacingAndGlyphs">i</text>
<text x="261.55" y="1317.80" font-size="33.0" textLength="14.02" lengthAdjust="spacingAndGlyphs">a</text>
<text x="774.40" y="1319.90" font-size="33.0" textLength="18.70" lengthAdjust="spacingAndGlyphs">V</text>
<text x="793.15" y="1319.90" font-size="33.0" textLength="16.65" lengthAdjust="spacingAndGlyphs">e</text>
<text x="810.43" y="1319.90" font-size="33.0" textLength="18.39" lengthAdjust="spacingAndGlyphs">n</text>
<text x="828.88" y="1319.90" font-size="33.0" textLength="9.95" lengthAdjust="spacingAndGlyphs">t</text>
<text x="840.42" y="1319.90" font-size="33.0" textLength="10.06" lengthAdjust="spacingAndGlyphs">r</text>
<text x="851.19" y="1319.90" font-size="33.0" textLength="7.33" lengthAdjust="spacingAndGlyphs">i</text>
<text x="859.09" y="1319.90" font-size="33.0" textLength="14.55" lengthAdjust="spacingAndGlyphs">c</text>
<text x="874.03" y="1319.90" font-size="33.0" textLength="7.33" lengthAdjust="spacingAndGlyphs">l</text>
<text x="882.24" y="1319.90" font-size="33.0" textLength="16.77" lengthAdjust="spacingAndGlyphs">e</text>
<text x="900.08" y="1319.90" font-size="33.0" textLength="11.64" lengthAdjust="spacingAndGlyphs">s</text>
</g>
<rect x="20" y="1275.1" width="451.3" height="4.4" fill="#000"/>
<rect x="502" y="1277.0" width="693.2" height="4.2" fill="#000"/>
</svg>
</body></html>
